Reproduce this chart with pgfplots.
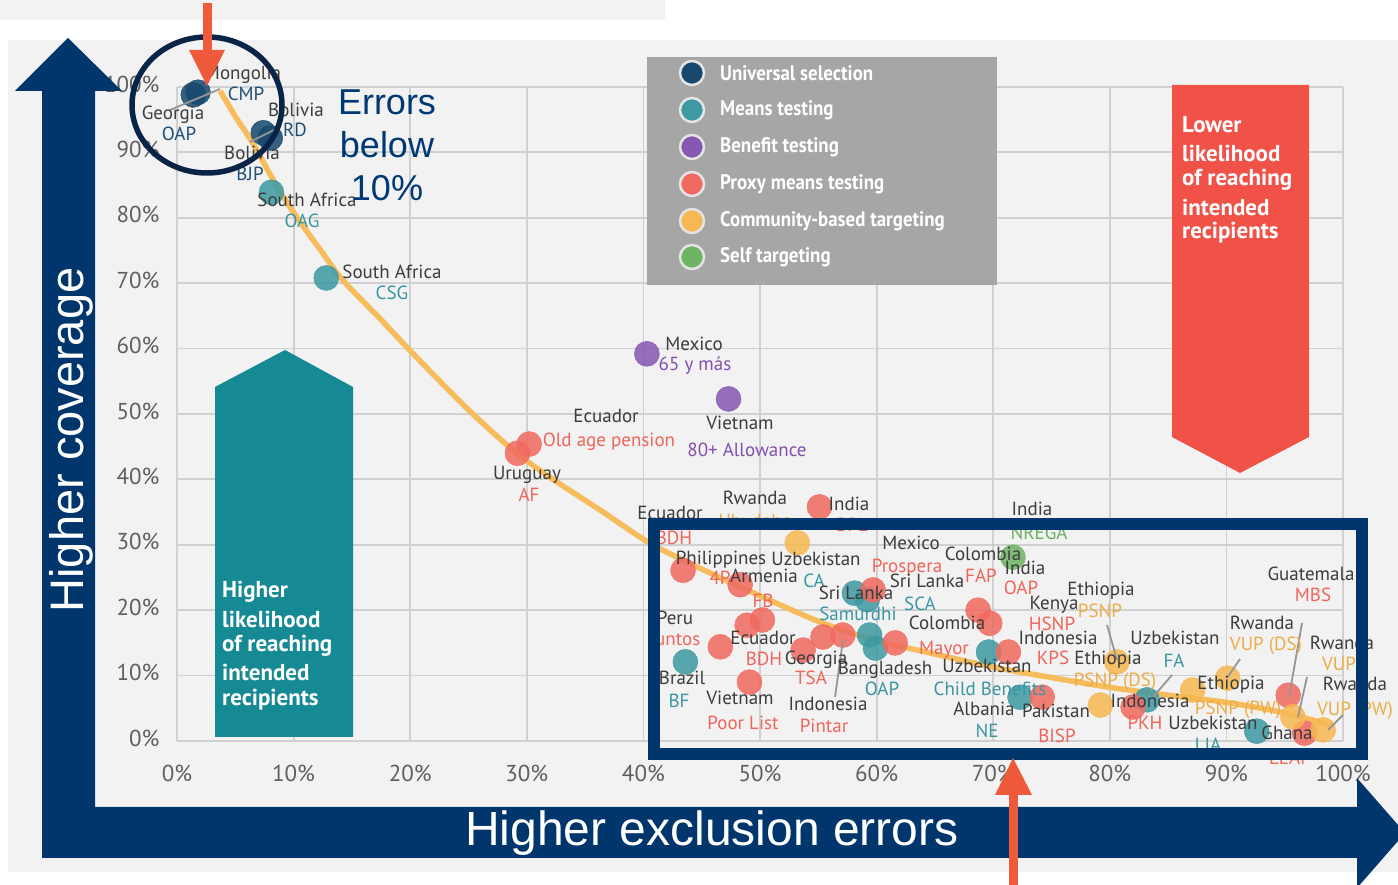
\documentclass[border=0pt]{standalone}
\usepackage{pgfplots}
\pgfplotsset{compat=1.18}
\usepackage{fontspec}
\setmainfont{PT Sans}
\newfontfamily\arial{Liberation Sans}
\newfontfamily\legfont{PT Sans}[FakeStretch=0.9]

\definecolor{bg}{RGB}{242,242,242}
\definecolor{gridgrey}{RGB}{208,208,208}
\definecolor{tickgrey}{RGB}{95,95,95}
\definecolor{navy}{RGB}{0,54,108}
\definecolor{circnavy}{RGB}{10,36,72}
\definecolor{hotred}{RGB}{238,90,58}
\definecolor{tealblock}{RGB}{22,138,148}
\definecolor{redblock}{RGB}{240,82,72}
\definecolor{leggrey}{RGB}{166,166,166}
\definecolor{curve}{RGB}{247,188,92}
\definecolor{leader}{RGB}{150,150,150}
\definecolor{dark}{RGB}{60,60,60}
% marker colours
\definecolor{cUni}{RGB}{24,72,110}
\definecolor{cMeans}{RGB}{62,154,162}
\definecolor{cBen}{RGB}{134,88,178}
\definecolor{cPMT}{RGB}{240,106,96}
\definecolor{cCBT}{RGB}{246,184,82}
\definecolor{cSelf}{RGB}{110,180,100}
% label colours
\definecolor{tUni}{RGB}{30,78,120}
\definecolor{tMeans}{RGB}{58,150,160}
\definecolor{tBen}{RGB}{130,80,176}
\definecolor{tPMT}{RGB}{240,100,90}
\definecolor{tCBT}{RGB}{236,172,72}
\definecolor{tSelf}{RGB}{108,176,96}
\definecolor{errblue}{RGB}{0,56,115}

\newcommand\lbl{\fontsize{19}{22}\selectfont}
\tikzset{
  lab/.style={font=\lbl, inner sep=0pt, text height=0.72em, text depth=0.2em, text=dark},
  leg/.style={font=\legfont\bfseries\fontsize{21}{24}\selectfont, text=white, anchor=west, inner sep=0pt},
  blk/.style={font=\bfseries\fontsize{23}{26}\selectfont, text=white, anchor=west, inner sep=0pt},
  ldr/.style={draw=leader, line width=1.8pt},
}
\pgfplotsset{
  dots/.style={only marks, mark=*, mark size=12.5pt, color=#1,
    mark options={draw=none, fill=#1, fill opacity=0.86}},
}

\begin{document}
\begin{tikzpicture}
\path[use as bounding box] (0,0) rectangle (1398pt,885pt);
\clip (0,0) rectangle (1398pt,885pt);

% page background
\begin{scope}[x=1pt,y=-1pt,shift={(0pt,885pt)}]
  \fill[white] (0,0) rectangle (1398,885);
  \fill[bg] (8,40) rectangle (1398,872);
  \fill[bg] (0,0) rectangle (665,20);
\end{scope}

\begin{axis}[
  at={(177pt,144pt)}, anchor=south west,
  scale only axis, width=1166pt, height=654pt,
  xmin=0, xmax=100, ymin=0, ymax=100,
  xtick={0,10,...,100}, ytick={0,10,...,100},
  grid=major,
  major grid style={draw=gridgrey, line width=1.8pt},
  axis line style={draw=none},
  major tick length=0pt,
  /pgf/number format/assume math mode=true,
  xticklabel={\pgfmathprintnumber{\tick}\%},
  yticklabel={\pgfmathprintnumber{\tick}\%},
  tick label style={font=\fontsize{23}{26}\selectfont, text=tickgrey},
  xticklabel style={yshift=-21pt},
  yticklabel style={xshift=-14pt, yshift=3pt},
  clip=false,
]
% fitted trade-off curve
\addplot[smooth, line width=5.5pt, color=curve] coordinates {
  (3.7,99.4) (5,95.5) (6.5,91.4) (8.6,84.7) (10.5,79.5) (12.3,75.1)
  (14.2,70.5) (17.4,64.6) (20.2,59.3) (24.9,50.8) (28.8,44.5) (32,40.3)
  (36.3,35.3) (40.6,30.2) (45,26.3) (49,23) (55,18.3) (60,15.3)
  (63.5,13.9) (70,11.3) (75,9.7) (80,8.2) (85,7) (90,5.9) (95,4.3) (99,2.4)
};
% Universal selection
\addplot[dots=cUni] coordinates {
  (1.4,98.8) (1.8,99.2) (7.4,93.0) (8.0,92.2)
};
% Means testing
\addplot[dots=cMeans] coordinates {
  (8.1,83.9) (12.8,70.8) (58.1,22.6) (59.2,21.6) (59.4,16.2) (59.9,14.2)
  (43.6,12.1) (69.6,13.6) (72.3,6.7) (83.2,6.3) (92.6,1.5)
};
% Benefit testing
\addplot[dots=cBen] coordinates {
  (40.3,59.2) (47.3,52.3)
};
% Proxy means testing
\addplot[dots=cPMT] coordinates {
  (30.2,45.4) (29.2,44.0) (55.1,35.8) (43.4,26.1) (48.3,23.9) (48.9,17.7)
  (50.2,18.5) (46.6,14.4) (49.1,9.0) (53.7,13.9) (55.4,15.9) (57.1,16.2)
  (59.7,23.1) (61.6,15.0) (68.7,20.0) (69.7,18.0) (71.3,13.6) (74.2,6.7)
  (82.0,5.2) (95.3,7.0) (96.7,1.2)
};
% Community-based targeting
\addplot[dots=cCBT] coordinates {
  (53.2,30.3) (80.6,12.1) (79.2,5.5) (87.1,7.8) (90.1,9.6) (95.7,3.7) (98.3,1.7)
};
% Self targeting
\addplot[dots=cSelf] coordinates {
  (71.7,28.1)
};
\end{axis}

\begin{scope}[x=1pt,y=-1pt,shift={(0pt,885pt)}]
  % side blocks
  \fill[tealblock] (215,737) -- (215,387) -- (285,350) -- (353,387) -- (353,737) -- cycle;
  \node[blk] at (222,592) {Higher};
  \node[blk] at (222,619) {likelihood};
  \node[blk] at (222,646) {of reaching};
  \node[blk] at (222,672) {intended};
  \node[blk] at (222,700) {recipients};

  \fill[redblock] (1172,85) -- (1309,85) -- (1309,437) -- (1240,473) -- (1172,437) -- cycle;
  \node[blk] at (1182,125) {Lower};
  \node[blk] at (1182,153) {likelihood};
  \node[blk] at (1182,180) {of reaching};
  \node[blk] at (1182,207) {intended};
  \node[blk] at (1182,233) {recipients};

  % legend
  \fill[leggrey] (647,57) rectangle (997,285);
  \foreach \yy/\cc/\tt in {73/cUni/Universal selection, 110/cMeans/Means testing,
      147/cBen/Benefit testing, 184/cPMT/Proxy means testing,
      221/cCBT/Community-based targeting, 257/cSelf/Self targeting} {
    \filldraw[fill=\cc, draw={rgb,255:red,228;green,228;blue,228}, line width=2.5pt] (692,\yy) circle [radius=12];
    \node[leg] at (720,\yy) {\tt};
  }

  % leader lines
  \draw[ldr] (170,110) -- (220,89);
  \draw[ldr] (250,142) -- (278,128);
  \draw[ldr] (835,697) -- (843,640);
  \draw[ldr] (1107,625) -- (1117,660);
  \draw[ldr] (1172,675) -- (1153,697);
  \draw[ldr] (1240,659) -- (1227,678);
  \draw[ldr] (1302,623) -- (1289,697);
  \draw[ldr] (1307,677) -- (1298,717);
  \draw[ldr] (1343,715) -- (1328,730);

  % programme labels
  \node[lab] at (243,77) {Mongolia};   \node[lab,text=tUni] at (246,98) {CMP};
  \node[lab] at (173,117) {Georgia};   \node[lab,text=tUni] at (179,138) {OAP};
  \node[lab] at (296,114) {Bolivia};   \node[lab,text=tUni] at (295,134) {RD};
  \node[lab] at (252,157) {Bolivia};   \node[lab,text=tUni] at (250,178) {BJP};
  \node[lab] at (307,204) {South Africa}; \node[lab,text=tMeans] at (302,225) {OAG};
  \node[lab] at (392,276) {South Africa}; \node[lab,text=tMeans] at (392,297) {CSG};
  \node[lab] at (694,348) {Mexico};    \node[lab,text=tBen] at (695,368) {65 y más};
  \node[lab] at (740,427) {Vietnam};   \node[lab,text=tBen] at (747,454) {80+ Allowance};
  \node[lab] at (606,420) {Ecuador};   \node[lab,text=tPMT] at (609,444) {Old age pension};
  \node[lab] at (527,477) {Uruguay};   \node[lab,text=tPMT] at (529,499) {AF};
  \node[lab] at (755,502) {Rwanda};    \node[lab,text=tCBT] at (755,525) {Ubudehe};
  \node[lab] at (849,508) {India};     \node[lab,text=tPMT] at (852,529) {BPL};
  \node[lab] at (670,517) {Ecuador};   \node[lab,text=tPMT] at (674,542) {BDH};
  \node[lab] at (721,562) {Philippines}; \node[lab,text=tPMT] at (720,582) {4P};
  \node[lab] at (816,563) {Uzbekistan}; \node[lab,text=tMeans] at (814,585) {CA};
  \node[lab] at (911,547) {Mexico};    \node[lab,text=tPMT] at (907,570) {Prospera};
  \node[lab] at (983,558) {Colombia};  \node[lab,text=tPMT] at (981,580) {FAP};
  \node[lab] at (1032,513) {India};    \node[lab,text=tSelf] at (1039,537) {NREGA};
  \node[lab] at (1025,572) {India};    \node[lab,text=tPMT] at (1021,592) {OAP};
  \node[lab] at (764,580) {Armenia};   \node[lab,text=tPMT] at (763,605) {FB};
  \node[lab] at (856,597) {Sri Lanka}; \node[lab,text=tMeans] at (858,618) {Samurdhi};
  \node[lab] at (927,585) {Sri Lanka}; \node[lab,text=tMeans] at (920,608) {SCA};
  \node[lab] at (1054,607) {Kenya};    \node[lab,text=tPMT] at (1052,628) {HSNP};
  \node[lab] at (1101,593) {Ethiopia}; \node[lab,text=tCBT] at (1100,615) {PSNP};
  \node[lab] at (1311,578) {Guatemala}; \node[lab,text=tPMT] at (1313,599) {MBS};
  \node[lab] at (675,622) {Peru};      \node[lab,text=tPMT] at (675,643) {Juntos};
  \node[lab] at (763,642) {Ecuador};   \node[lab,text=tPMT] at (764,663) {BDH};
  \node[lab] at (947,627) {Colombia};  \node[lab,text=tPMT] at (944,652) {Mayor};
  \node[lab] at (1058,642) {Indonesia}; \node[lab,text=tPMT] at (1053,662) {KPS};
  \node[lab] at (1175,642) {Uzbekistan}; \node[lab,text=tMeans] at (1174,665) {FA};
  \node[lab] at (1262,627) {Rwanda};   \node[lab,text=tCBT] at (1266,648) {VUP (DS)};
  \node[lab] at (1342,647) {Rwanda};   \node[lab,text=tCBT] at (1339,668) {VUP};
  \node[lab] at (816,662) {Georgia};   \node[lab,text=tPMT] at (811,682) {TSA};
  \node[lab] at (885,672) {Bangladesh}; \node[lab,text=tMeans] at (882,693) {OAP};
  \node[lab] at (987,670) {Uzbekistan}; \node[lab,text=tMeans] at (990,693) {Child Benefits};
  \node[lab] at (1108,662) {Ethiopia}; \node[lab,text=tCBT] at (1115,684) {PSNP (DS)};
  \node[lab] at (682,682) {Brazil};    \node[lab,text=tMeans] at (679,705) {BF};
  \node[lab] at (740,702) {Vietnam};   \node[lab,text=tPMT] at (743,727) {Poor List};
  \node[lab] at (828,708) {Indonesia}; \node[lab,text=tPMT] at (824,730) {Pintar};
  \node[lab] at (984,713) {Albania};   \node[lab,text=tMeans] at (987,735) {NE};
  \node[lab] at (1056,715) {Pakistan}; \node[lab,text=tPMT] at (1057,740) {BISP};
  \node[lab] at (1231,687) {Ethiopia}; \node[lab,text=tCBT] at (1238,712) {PSNP (PW)};
  \node[lab] at (1355,688) {Rwanda};   \node[lab,text=tCBT] at (1355,713) {VUP (PW)};
  \node[lab] at (1150,705) {Indonesia}; \node[lab,text=tPMT] at (1145,727) {PKH};
  \node[lab] at (1213,727) {Uzbekistan}; \node[lab,text=tMeans] at (1208,749) {LIA};
  \node[lab] at (1287,737) {Ghana};    \node[lab,text=tPMT] at (1290,762) {LEAP};

  % highlight frame
  \draw[navy, line width=12pt] (654,524) rectangle (1362,754);

  % direction arrows
  \fill[navy] (42,858) -- (42,91) -- (15,91) -- (68,38) -- (122,91) -- (95,91) -- (95,807) -- cycle;
  \fill[navy] (42,807) -- (1357,807) -- (1357,778) -- (1405,833) -- (1357,888) -- (1357,858) -- (42,858) -- cycle;
  \node[font=\arial\fontsize{47}{50}\selectfont, text=white, rotate=90, inner sep=0pt] at (71,440) {Higher coverage};
  \node[font=\arial\fontsize{48}{50}\selectfont, text=white, inner sep=0pt] at (712,833) {Higher exclusion errors};

  % circle around the low-error corner
  \draw[circnavy, line width=5.5pt] (207,105) ellipse [x radius=75, y radius=68];
  \node[font=\arial\fontsize{36}{40}\selectfont, text=errblue, inner sep=0pt] at (387,102) {Errors};
  \node[font=\arial\fontsize{36}{40}\selectfont, text=errblue, inner sep=0pt] at (387,145) {below};
  \node[font=\arial\fontsize{36}{40}\selectfont, text=errblue, inner sep=0pt] at (387,188) {10\%};

  % pointer arrows
  \fill[hotred] (203,3) rectangle (212,52);
  \fill[hotred] (189,50) -- (225,50) -- (207,86) -- cycle;
  \fill[hotred] (1009,885) rectangle (1018,792);
  \fill[hotred] (995,795) -- (1032,795) -- (1013,758) -- cycle;
\end{scope}
\end{tikzpicture}
\end{document}
